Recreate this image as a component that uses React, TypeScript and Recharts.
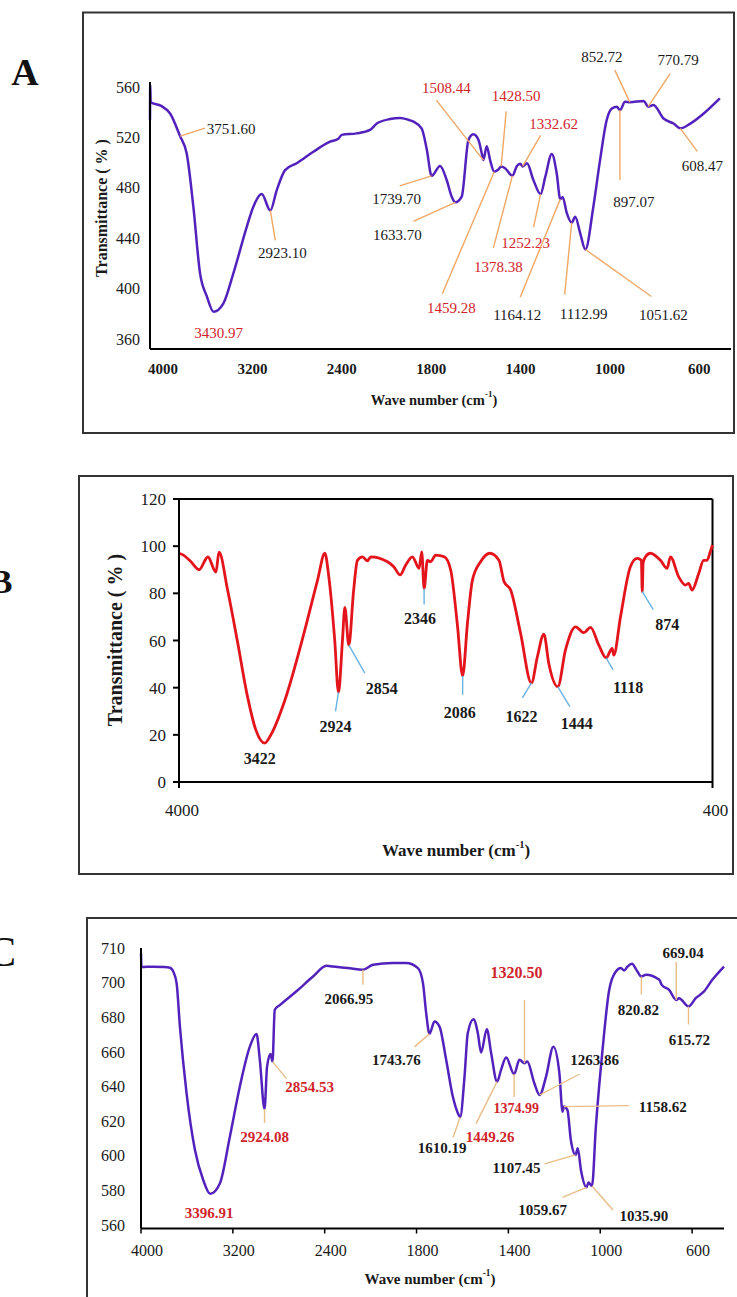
import React from "react";
import { LineChart, Line, XAxis, YAxis, ReferenceDot, ReferenceLine } from "recharts";

const SERIF = '"Liberation Serif", "Times New Roman", serif';
const RED = "#d0242b";
const INK = "#1a1a1a";

// A and C use the usual FTIR split scale: 4000-2000 compressed, 2000-400 at double width
const toU = (w: number) => (w >= 2000 ? 4000 - w : 2000 + 2 * (2000 - w));

const xTickWaves = [4000, 3200, 2400, 1800, 1400, 1000, 600];

// ---- panel A ----
const waveA = [4000, 3998, 3994, 3900, 3820, 3731, 3671, 3612, 3552, 3492, 3430.97, 3344, 3254, 3134, 3075, 3000, 2923.1, 2866, 2791, 2687, 2538, 2389, 2314, 2284, 2150, 2031, 1985, 1926, 1881, 1844, 1821, 1784, 1761, 1739.7, 1702, 1672, 1650, 1633.7, 1605, 1575, 1553, 1530, 1515, 1508.44, 1493, 1478, 1459.28, 1441, 1428.5, 1411, 1378.38, 1358, 1343, 1332.62, 1313, 1284, 1252.23, 1231, 1202, 1180, 1164.12, 1153, 1135, 1112.99, 1097, 1075, 1051.62, 1016, 986, 956, 933, 911, 897.07, 874, 852.72, 790, 770.79, 747, 702, 657, 627, 582, 522, 450];
const transA = [534, 562, 548, 545, 539, 521, 507, 465, 412, 394, 381.5, 388, 412, 449, 465, 475, 462, 478, 494, 499.5, 508.6, 516.6, 519, 522, 523.2, 526, 531, 534.6, 535.5, 534, 532.5, 527, 510, 489.4, 497.3, 486, 473, 468.5, 473, 518, 522.5, 518, 507, 502, 513, 502, 492.8, 494.5, 497, 495.5, 489.5, 497.3, 499, 497, 499.4, 486, 475, 488.8, 506.8, 491.5, 471, 472.5, 460, 452.3, 457, 444, 431, 465, 502, 534, 543, 544.4, 541.7, 548.3, 548, 548.9, 544.4, 545.7, 535, 531, 527.2, 531, 539, 551];
const yTicksA = [360, 400, 440, 480, 520, 560];

// ---- panel B ----
const waveB = [4000, 3973, 3919, 3865, 3805, 3751, 3730, 3672, 3604, 3537, 3481, 3422, 3380, 3292, 3157, 3065, 3016, 2989, 2949, 2924, 2897, 2881, 2854, 2822, 2796, 2762, 2728, 2706, 2593, 2551, 2508, 2470, 2425, 2380, 2362, 2346, 2324, 2302, 2268, 2210, 2167, 2122, 2086, 2054, 2020, 1965, 1902, 1841, 1807, 1762, 1695, 1622, 1582, 1538, 1504, 1444, 1392, 1324, 1268, 1223, 1167, 1118, 1077, 1066, 1021, 954, 908, 880, 874, 868, 852, 819, 751, 706, 684, 628, 583, 561, 538, 493, 460, 437, 415, 400];
const transB = [97, 96.3, 93.4, 90, 95.4, 89, 97.5, 81.4, 59, 36, 22, 16.5, 20, 33.5, 63, 85.6, 97, 87, 60, 38, 60, 74, 58, 81, 94, 95.5, 93.8, 95.5, 93.4, 91.3, 87.8, 92, 95.5, 90.6, 97.6, 82, 94, 93.4, 96.2, 95.5, 90, 67, 45, 67, 85.6, 93.4, 97, 94, 85, 81.4, 63, 42, 53, 62.7, 50, 40.4, 56, 65.8, 63.3, 65.6, 58, 52.6, 56.7, 53.8, 70, 91.3, 94.8, 94, 80.7, 93, 95.5, 97, 94, 90.6, 95.5, 87, 83.5, 84.2, 81.4, 88.4, 94, 94, 97.6, 100.5];
const yTicksB = [0, 20, 40, 60, 80, 100, 120];
const xTicksB = [4000, 400];

// ---- panel C ----
const waveC = [4000, 3996, 3900, 3800, 3748, 3719, 3690, 3661, 3603, 3530, 3458, 3396.91, 3313, 3226, 3139, 3052, 2994, 2965, 2924.08, 2902, 2872, 2854.53, 2835, 2791, 2646, 2502, 2385, 2328, 2200, 2066.95, 1990, 1903, 1845, 1794, 1772, 1758, 1743.76, 1722, 1700, 1671, 1642, 1620, 1610.19, 1591, 1577, 1552, 1533, 1519, 1494, 1475, 1449.26, 1432, 1410, 1374.99, 1352, 1330, 1318, 1287, 1263.86, 1236, 1204, 1178, 1164, 1158.62, 1143, 1128, 1107.45, 1098, 1084, 1059.67, 1051, 1035.9, 1019, 990, 961, 932, 910, 896, 881, 862, 838, 820.82, 801, 743, 732, 700, 669.04, 657, 615.72, 584, 548, 512, 461];
const transC = [717, 709, 709.2, 709, 708.6, 706.4, 699.7, 674.6, 636, 603.3, 586, 578, 584, 611, 640, 663, 670.4, 655.4, 627, 651.5, 658.8, 654.4, 684.3, 687, 695, 703.5, 709.7, 709.3, 708.5, 707.4, 710.3, 711.3, 711.3, 708.4, 699.7, 682.4, 670.4, 677.5, 674.6, 655.4, 634.2, 624.6, 622.3, 645.7, 670.8, 678.9, 670.8, 659.6, 673.1, 659.2, 642.8, 649.6, 656.7, 647.2, 655.4, 653.5, 654.5, 641.9, 635.1, 645.7, 663, 647.7, 625.5, 628.4, 626.5, 609.1, 600.5, 604.3, 591.8, 581.8, 584.5, 582.5, 616.8, 661.2, 695.8, 706.4, 708.4, 707, 709.3, 710.9, 706.4, 703.5, 704.5, 701.6, 698.7, 695.8, 690, 691, 686.2, 691, 694.9, 701.6, 709.3];
// the top tick of the original sits one 20-step above 700 but reads "710"
const yTicksC = [560, 580, 600, 620, 640, 660, 680, 700, 720];
const yTickTextC = ["560", "580", "600", "620", "640", "660", "680", "700", "710"];

// peak callouts: w/t = point on the curve, lx/ly = leader end, tx/ty = label centre (px from the point)
type Note = { text: string; red?: boolean; w: number; t: number; lx?: number; ly?: number; tx: number; ty: number; size?: number };

const notesA: Note[] = [
  { text: "3751.60", w: 3731, t: 521, lx: 25, ly: -8, tx: 51, ty: -7 },
  { text: "3430.97", red: true, w: 3430.97, t: 381.5, tx: 5, ty: 21 },
  { text: "2923.10", w: 2923.1, t: 462, lx: 5, ly: 30, tx: 12, ty: 43 },
  { text: "1739.70", w: 1739.7, t: 489.4, lx: -32, ly: 10, tx: -35, ty: 23 },
  { text: "1633.70", w: 1633.7, t: 468.5, lx: -42, ly: 19, tx: -58, ty: 33 },
  { text: "1508.44", red: true, w: 1508.44, t: 502, lx: -47, ly: -60, tx: -37, ty: -72 },
  { text: "1428.50", red: true, w: 1428.5, t: 497, lx: 5, ly: -55, tx: 15, ty: -70 },
  { text: "1332.62", red: true, w: 1332.62, t: 497, lx: 18, ly: -31, tx: 31, ty: -42 },
  { text: "1252.23", red: true, w: 1252.23, t: 475, lx: -7, ly: 33, tx: -15, ty: 49 },
  { text: "1378.38", red: true, w: 1378.38, t: 489.5, lx: -19, ly: 72, tx: -14, ty: 91 },
  { text: "1459.28", red: true, w: 1459.28, t: 492.8, lx: -52, ly: 122, tx: -43, ty: 136 },
  { text: "1164.12", w: 1164.12, t: 471, lx: -40, ly: 98, tx: -43, ty: 116 },
  { text: "1112.99", w: 1112.99, t: 452.3, lx: -7, ly: 72, tx: 12, ty: 91 },
  { text: "1051.62", w: 1051.62, t: 431, lx: 66, ly: 47, tx: 78, ty: 65 },
  { text: "897.07", w: 897.07, t: 541.7, lx: 0, ly: 70, tx: 14, ty: 92 },
  { text: "852.72", w: 852.72, t: 548, lx: -15, ly: -32, tx: -28, ty: -45 },
  { text: "770.79", w: 770.79, t: 544.4, lx: 22, ly: -33, tx: 30, ty: -47 },
  { text: "608.47", w: 627, t: 527.2, lx: 17, ly: 23, tx: 22, ty: 38 },
];

const notesB: Note[] = [
  { text: "3422", w: 3422, t: 16.5, tx: -5, ty: 15 },
  { text: "2924", w: 2924, t: 38, lx: -3, ly: 19, tx: -3, ty: 34 },
  { text: "2854", w: 2854, t: 58, lx: 16, ly: 28, tx: 33, ty: 43 },
  { text: "2346", w: 2346, t: 82, lx: 0, ly: 16, tx: -4, ty: 30 },
  { text: "2086", w: 2086, t: 45, lx: 0, ly: 19, tx: -3, ty: 37 },
  { text: "1622", w: 1622, t: 42, lx: -9, ly: 15, tx: -10, ty: 34 },
  { text: "1444", w: 1444, t: 40.4, lx: 12, ly: 20, tx: 19, ty: 37 },
  { text: "1118", w: 1118, t: 52.6, lx: 7, ly: 12, tx: 22, ty: 30 },
  { text: "874", w: 874, t: 80.7, lx: 11, ly: 18, tx: 25, ty: 33 },
];

const notesC: Note[] = [
  { text: "3396.91", red: true, w: 3396.91, t: 578, tx: -1, ty: 19 },
  { text: "2924.08", red: true, w: 2924.08, t: 627, lx: 0, ly: 14, tx: 0, ty: 28 },
  { text: "2854.53", red: true, w: 2854.53, t: 654.4, lx: 14, ly: 17, tx: 37, ty: 25 },
  { text: "2066.95", w: 2066.95, t: 707.4, lx: 0, ly: 15, tx: -14, ty: 29 },
  { text: "1743.76", w: 1743.76, t: 670.4, lx: -15, ly: 13, tx: -33, ty: 26 },
  { text: "1610.19", w: 1610.19, t: 622.3, lx: -7, ly: 20, tx: -18, ty: 31 },
  { text: "1449.26", red: true, w: 1449.26, t: 642.8, lx: -21, ly: 42, tx: -7, ty: 55 },
  { text: "1374.99", red: true, w: 1374.99, t: 647.2, lx: 0, ly: 23, tx: 2, ty: 34, size: 14 },
  { text: "1320.50", red: true, w: 1330, t: 653.5, lx: 0, ly: -63, tx: -8, ty: -91, size: 16 },
  { text: "1263.86", w: 1263.86, t: 635.1, lx: 40, ly: -21, tx: 55, ty: -35 },
  { text: "1158.62", w: 1158.62, t: 628.4, lx: 65, ly: -1, tx: 99, ty: 0 },
  { text: "1107.45", w: 1107.45, t: 600.5, lx: -31, ly: 9, tx: -59, ty: 13 },
  { text: "1059.67", w: 1059.67, t: 581.8, lx: -24, ly: 10, tx: -44, ty: 23 },
  { text: "1035.90", w: 1035.9, t: 582.5, lx: 21, ly: 24, tx: 52, ty: 30 },
  { text: "820.82", w: 820.82, t: 703.5, lx: 0, ly: 18, tx: -3, ty: 33 },
  { text: "669.04", w: 669.04, t: 690, lx: 0, ly: -38, tx: 7, ty: -47 },
  { text: "615.72", w: 615.72, t: 686.2, lx: 0, ly: 18, tx: 1, ty: 33 },
];

const rowsA = waveA.map((w, i) => ({ u: toU(w), t: transA[i] }));
const rowsB = waveB.map((w, i) => ({ w, t: transB[i] }));
const rowsC = waveC.map((w, i) => ({ u: toU(w), t: transC[i] }));

type NoteStyle = { leader: string; size: number; weight: number | "normal" | "bold" };

function noteShape(n: Note, s: NoteStyle) {
  return (p: any) => (
    <g>
      {n.lx !== undefined && (
        <line x1={p.cx} y1={p.cy} x2={p.cx + n.lx} y2={p.cy + (n.ly ?? 0)} stroke={s.leader} strokeWidth={1.4} />
      )}
      <text
        x={p.cx + n.tx}
        y={p.cy + n.ty}
        textAnchor="middle"
        dominantBaseline="central"
        fontFamily={SERIF}
        fontSize={n.size ?? s.size}
        fontWeight={s.weight}
        fill={n.red ? RED : INK}
      >
        {n.text}
      </text>
    </g>
  );
}

function waveTick(label: (v: number) => string, dx: number, dy: number, size: number, weight: "normal" | "bold") {
  return (p: any) => (
    <text
      x={p.x + dx}
      y={p.y + dy}
      textAnchor="middle"
      dominantBaseline="central"
      fontFamily={SERIF}
      fontSize={size}
      fontWeight={weight}
      fill={INK}
    >
      {label(p.payload.value)}
    </text>
  );
}

const splitLabel = (u: number) => {
  const i = xTickWaves.map(toU).indexOf(u);
  return i >= 0 ? String(xTickWaves[i]) : "";
};

const axisLine = { stroke: "#000", strokeWidth: 2 };

function Overlay() {
  const title = (x: number, y: number, size: number, rotate = false, sup = true, text = "Wave number (cm") => (
    <text
      x={x}
      y={y}
      textAnchor="middle"
      dominantBaseline="central"
      fontFamily={SERIF}
      fontWeight="bold"
      fontSize={size}
      fill={INK}
      transform={rotate ? `rotate(-90 ${x} ${y})` : undefined}
    >
      {text}
      {sup && (
        <>
          <tspan dy={-size * 0.38} fontSize={size * 0.62}>-1</tspan>
          <tspan dy={size * 0.38}>)</tspan>
        </>
      )}
    </text>
  );
  return (
    <svg width={737} height={1297} style={{ position: "absolute", left: 0, top: 0 }}>
      <rect x={83} y={12.5} width={651} height={420.5} fill="none" stroke="#333" strokeWidth={2} />
      <rect x={79} y={476} width={654} height={398} fill="none" stroke="#333" strokeWidth={2} />
      <rect x={87} y={918} width={700} height={450} fill="none" stroke="#333" strokeWidth={2} />

      <text x={25} y={72} textAnchor="middle" dominantBaseline="central" fontFamily={SERIF} fontWeight="bold" fontSize={38} fill="#111">A</text>
      <text x={1} y={581} textAnchor="middle" dominantBaseline="central" fontFamily={SERIF} fontWeight="bold" fontSize={34} fill="#111">B</text>
      <text x={2} y={952} textAnchor="middle" dominantBaseline="central" fontFamily={SERIF} fontSize={42} fill="#111">C</text>

      {title(101, 208, 16, true, false, "Transmittance ( % )")}
      {title(434, 400, 14.5)}
      {title(115, 640, 20, true, false, "Transmittance ( % )")}
      {title(456, 850, 17)}
      {title(430, 1279, 15)}
    </svg>
  );
}

export default function App() {
  const styleA: NoteStyle = { leader: "#f0a866", size: 15, weight: "normal" };
  const styleB: NoteStyle = { leader: "#6ab2e2", size: 16, weight: "bold" };
  const styleC: NoteStyle = { leader: "#e8bd86", size: 15, weight: "bold" };

  return (
    <div
      style={{
        position: "absolute",
        left: 0,
        top: 0,
        width: 737,
        height: 1297,
        background: "#fff",
        overflow: "hidden",
        fontFamily: SERIF,
      }}
    >
      <Overlay />

      {/* A */}
      <div style={{ position: "absolute", left: 0, top: 0 }}>
        <LineChart width={737} height={440} data={rowsA} margin={{ top: 82, right: 6, bottom: 61, left: 90 }}>
          <XAxis
            dataKey="u"
            type="number"
            domain={[0, 5200]}
            ticks={xTickWaves.map(toU)}
            interval={0}
            height={30}
            axisLine={axisLine}
            tickLine={false}
            tickSize={0}
            tickMargin={0}
            tick={waveTick(splitLabel, 13, 20, 15, "bold")}
          />
          <YAxis
            type="number"
            domain={[352, 564]}
            ticks={yTicksA}
            interval={0}
            width={60}
            axisLine={axisLine}
            tickLine={false}
            tickSize={0}
            tickMargin={10}
            tick={{ fill: INK, fontSize: 16, fontFamily: SERIF }}
          />
          <Line type="monotone" dataKey="t" stroke="#5322bd" strokeWidth={2.5} dot={false} isAnimationActive={false} />
          {notesA.map((n) => (
            <ReferenceDot key={n.text} x={toU(n.w)} y={n.t} r={0} ifOverflow="visible" shape={noteShape(n, styleA)} />
          ))}
        </LineChart>
      </div>

      {/* B */}
      <div style={{ position: "absolute", left: 0, top: 470 }}>
        <LineChart width={737} height={410} data={rowsB} margin={{ top: 29, right: 24.5, bottom: 68, left: 119 }}>
          <XAxis
            dataKey="w"
            type="number"
            domain={[400, 4000]}
            reversed
            ticks={xTicksB}
            interval={0}
            height={30}
            axisLine={axisLine}
            tickLine={{ stroke: "#000", strokeWidth: 2 }}
            tickSize={6}
            tickMargin={0}
            tick={waveTick((v) => String(v), 3, 22, 17, "normal")}
          />
          <YAxis
            type="number"
            domain={[0, 120]}
            ticks={yTicksB}
            interval={0}
            width={60}
            axisLine={axisLine}
            tickLine={{ stroke: "#000", strokeWidth: 2 }}
            tickSize={6}
            tickMargin={7}
            tick={{ fill: INK, fontSize: 17, fontFamily: SERIF }}
          />
          <ReferenceLine y={120} stroke="#000" strokeWidth={2} />
          <ReferenceLine x={400} stroke="#000" strokeWidth={2} />
          <Line type="monotone" dataKey="t" stroke="#e3141b" strokeWidth={2.8} dot={false} isAnimationActive={false} />
          {notesB.map((n) => (
            <ReferenceDot key={n.text} x={n.w} y={n.t} r={0} ifOverflow="visible" shape={noteShape(n, styleB)} />
          ))}
        </LineChart>
      </div>

      {/* C */}
      <div style={{ position: "absolute", left: 0, top: 910 }}>
        <LineChart width={737} height={387} data={rowsC} margin={{ top: 38, right: 13, bottom: 38.5, left: 81 }}>
          <XAxis
            dataKey="u"
            type="number"
            domain={[0, 5070]}
            ticks={xTickWaves.map(toU)}
            interval={0}
            height={30}
            axisLine={axisLine}
            tickLine={{ stroke: "#000", strokeWidth: 1.5 }}
            tickSize={5}
            tickMargin={0}
            tick={waveTick(splitLabel, 6, 17, 16, "normal")}
          />
          <YAxis
            type="number"
            domain={[558, 720]}
            ticks={yTicksC}
            interval={0}
            width={60}
            axisLine={axisLine}
            tickLine={false}
            tickSize={0}
            tickMargin={16}
            tickFormatter={(v: number) => yTickTextC[yTicksC.indexOf(v)] ?? String(v)}
            tick={{ fill: INK, fontSize: 16, fontFamily: SERIF }}
          />
          <Line type="monotone" dataKey="t" stroke="#5322bd" strokeWidth={2.5} dot={false} isAnimationActive={false} />
          {notesC.map((n) => (
            <ReferenceDot key={n.text} x={toU(n.w)} y={n.t} r={0} ifOverflow="visible" shape={noteShape(n, styleC)} />
          ))}
        </LineChart>
      </div>
    </div>
  );
}
